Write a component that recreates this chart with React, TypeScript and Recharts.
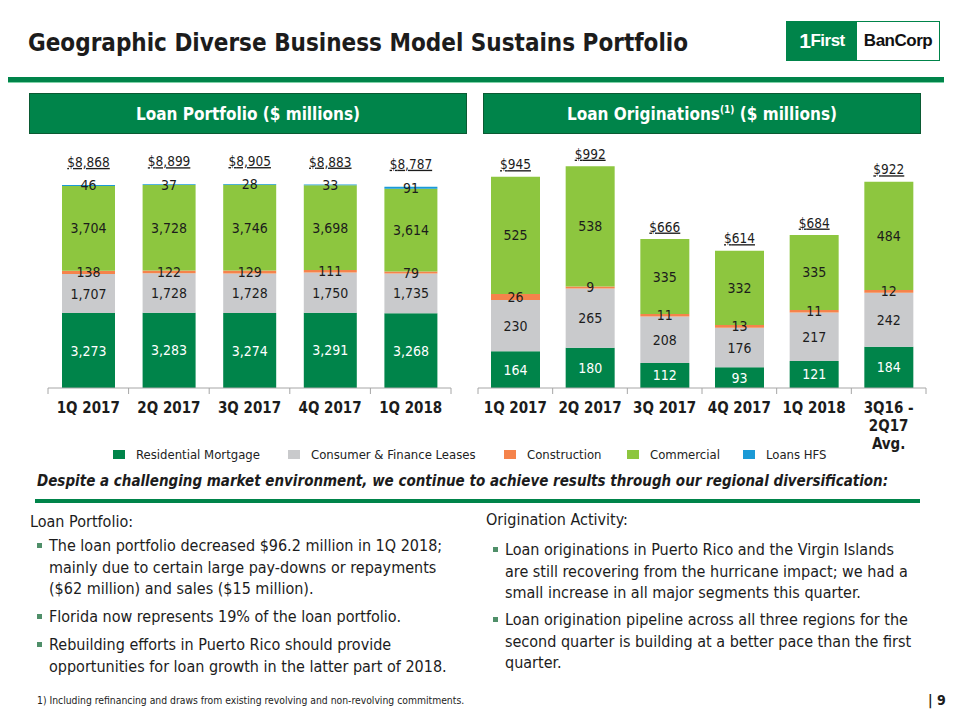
import React from 'react';
import { BarChart, Bar, XAxis, YAxis, LabelList } from 'recharts';

// loan portfolio ($ millions)
const portfolioQuarters = ['1Q 2017', '2Q 2017', '3Q 2017', '4Q 2017', '1Q 2018'];
const portfolioResidential = [3273, 3283, 3274, 3291, 3268];
const portfolioConsumer = [1707, 1728, 1728, 1750, 1735];
const portfolioConstruction = [138, 122, 129, 111, 79];
const portfolioCommercial = [3704, 3728, 3746, 3698, 3614];
const portfolioHfs = [46, 37, 28, 33, 91];
const portfolioTotals = [8868, 8899, 8905, 8883, 8787];

// loan originations ($ millions)
const originationQuarters = ['1Q 2017', '2Q 2017', '3Q 2017', '4Q 2017', '1Q 2018', '3Q16 -|2Q17|Avg.'];
const originationResidential = [164, 180, 112, 93, 121, 184];
const originationConsumer = [230, 265, 208, 176, 217, 242];
const originationConstruction = [26, 9, 11, 13, 11, 12];
const originationCommercial = [525, 538, 335, 332, 335, 484];
const originationTotals = [945, 992, 666, 614, 684, 922];

const seriesNames = ['Residential Mortgage', 'Consumer & Finance Leases', 'Construction', 'Commercial', 'Loans HFS'];

const GREEN = '#00844a';
const LIGHT_GREEN = '#8dc63f';
const GRAY = '#c9cacc';
const ORANGE = '#f5834b';
const BLUE = '#1b9ad6';
const seriesColors = [GREEN, GRAY, ORANGE, LIGHT_GREEN, BLUE];
const INK = '#1c1c1c';
const AXIS = '#a6a6a6';
const FONT = '"DejaVu Sans Condensed", "DejaVu Sans", sans-serif';

const portfolioData = portfolioQuarters.map((q, i) => ({
  quarter: q,
  residential: portfolioResidential[i],
  consumer: portfolioConsumer[i],
  construction: portfolioConstruction[i],
  commercial: portfolioCommercial[i],
  hfs: portfolioHfs[i],
  total: portfolioTotals[i],
}));

const originationData = originationQuarters.map((q, i) => ({
  quarter: q,
  residential: originationResidential[i],
  consumer: originationConsumer[i],
  construction: originationConstruction[i],
  commercial: originationCommercial[i],
  total: originationTotals[i],
}));

const fmt = (v: number) => Number(v).toLocaleString('en-US');

function box(props: any) {
  const vb = props.viewBox || props;
  return { x: vb.x ?? props.x, y: vb.y ?? props.y, w: vb.width ?? props.width, h: vb.height ?? props.height };
}

const segLabel = (color: string) => (props: any) => {
  const { x, y, w, h } = box(props);
  return (
    <text x={x + w / 2} y={y + h / 2} dy={5} textAnchor="middle" fontFamily={FONT} fontSize={14} fill={color}>
      {fmt(props.value)}
    </text>
  );
};

const totalLabel = (offset: number) => (props: any) => {
  const { x, y, w } = box(props);
  return (
    <text x={x + w / 2} y={y - offset} textAnchor="middle" fontFamily={FONT} fontSize={13.5} fill={INK}
      style={{ textDecoration: 'underline' }}>
      ${fmt(props.value)}
    </text>
  );
};

function QuarterTick(props: any) {
  const { x, y, payload, index, step, count } = props;
  const lines = String(payload.value).split('|');
  const half = step / 2;
  return (
    <g>
      <line x1={x - half} y1={y} x2={x - half} y2={y + 6} stroke={AXIS} />
      {index === count - 1 && <line x1={x + half} y1={y} x2={x + half} y2={y + 6} stroke={AXIS} />}
      <text x={x} y={y + 25} textAnchor="middle" fontFamily={FONT} fontWeight="bold" fontSize={15} fill={INK}>
        {lines.map((l, i) => (
          <tspan key={i} x={x} dy={i === 0 ? 0 : 18}>{l}</tspan>
        ))}
      </text>
    </g>
  );
}

function PortfolioChart() {
  return (
    <BarChart width={450} height={330} data={portfolioData} margin={{ top: 29, right: 19, bottom: 0, left: 28 }}>
      <XAxis dataKey="quarter" height={72} interval={0} tickSize={0} tickMargin={0} tickLine={false}
        axisLine={{ stroke: AXIS }} tick={<QuarterTick step={403 / 5} count={5} />} />
      <YAxis hide domain={[0, 10000]} />
      <Bar dataKey="residential" stackId="a" fill={GREEN} barSize={53} isAnimationActive={false}>
        <LabelList dataKey="residential" content={segLabel('#ffffff')} />
      </Bar>
      <Bar dataKey="consumer" stackId="a" fill={GRAY} barSize={53} isAnimationActive={false}>
        <LabelList dataKey="consumer" content={segLabel(INK)} />
      </Bar>
      <Bar dataKey="construction" stackId="a" fill={ORANGE} barSize={53} isAnimationActive={false}>
        <LabelList dataKey="construction" content={segLabel(INK)} />
      </Bar>
      <Bar dataKey="commercial" stackId="a" fill={LIGHT_GREEN} barSize={53} isAnimationActive={false}>
        <LabelList dataKey="commercial" content={segLabel(INK)} />
      </Bar>
      <Bar dataKey="hfs" stackId="a" fill={BLUE} barSize={53} isAnimationActive={false}>
        <LabelList dataKey="hfs" content={segLabel(INK)} />
        <LabelList dataKey="total" content={totalLabel(18)} />
      </Bar>
    </BarChart>
  );
}

function OriginationChart() {
  return (
    <BarChart width={470} height={340} data={originationData} margin={{ top: 22, right: 14, bottom: 0, left: 8 }}>
      <XAxis dataKey="quarter" height={72} interval={0} tickSize={0} tickMargin={0} tickLine={false}
        axisLine={{ stroke: AXIS }} tick={<QuarterTick step={448 / 6} count={6} />} />
      <YAxis hide domain={[0, 1100]} />
      <Bar dataKey="residential" stackId="a" fill={GREEN} barSize={49} isAnimationActive={false}>
        <LabelList dataKey="residential" content={segLabel('#ffffff')} />
      </Bar>
      <Bar dataKey="consumer" stackId="a" fill={GRAY} barSize={49} isAnimationActive={false}>
        <LabelList dataKey="consumer" content={segLabel(INK)} />
      </Bar>
      <Bar dataKey="construction" stackId="a" fill={ORANGE} barSize={49} isAnimationActive={false}>
        <LabelList dataKey="construction" content={segLabel(INK)} />
      </Bar>
      <Bar dataKey="commercial" stackId="a" fill={LIGHT_GREEN} barSize={49} isAnimationActive={false}>
        <LabelList dataKey="commercial" content={segLabel(INK)} />
        <LabelList dataKey="total" content={totalLabel(7.5)} />
      </Bar>
    </BarChart>
  );
}

function TextLine({ x, y, size = 15, bold = false, italic = false, color = INK, children }: any) {
  return (
    <div style={{
      position: 'absolute', left: x, top: y - size * 0.6, height: size * 1.2, lineHeight: `${size * 1.2}px`,
      fontSize: size, fontWeight: bold ? 'bold' : 'normal', fontStyle: italic ? 'italic' : 'normal',
      color, whiteSpace: 'nowrap',
    }}>
      {children}
    </div>
  );
}

function Bullet({ x, y }: any) {
  return <div style={{ position: 'absolute', left: x, top: y - 3, width: 5, height: 5, background: '#4f8f69' }} />;
}

const legendX = [113, 288, 504, 627, 743];

const leftNotes = [
  ['The loan portfolio decreased $96.2 million in 1Q 2018;', 'mainly due to certain large pay-downs or repayments', '($62 million) and sales ($15 million).'],
  ['Florida now represents 19% of the loan portfolio.'],
  ['Rebuilding efforts in Puerto Rico should provide', 'opportunities for loan growth in the latter part of 2018.'],
];
const rightNotes = [
  ['Loan originations in Puerto Rico and the Virgin Islands', 'are still recovering from the hurricane impact; we had a', 'small increase in all major segments this quarter.'],
  ['Loan origination pipeline across all three regions for the', 'second quarter is building at a better pace than the first', 'quarter.'],
];

function Notes({ x, y, heading, items, first, gap }: any) {
  const out: any[] = [<TextLine key="h" x={x - 19} y={y} size={16}>{heading}</TextLine>];
  let cy = y + first;
  items.forEach((lines: string[], i: number) => {
    out.push(<Bullet key={'b' + i} x={x - 12} y={cy} />);
    lines.forEach((l, j) => {
      out.push(<TextLine key={i + '-' + j} x={x} y={cy} size={16}>{l}</TextLine>);
      cy += 21.5;
    });
    cy += gap;
  });
  return <>{out}</>;
}

export default function App() {
  return (
    <div style={{ position: 'relative', width: 960, height: 720, margin: -8, background: '#fff', overflow: 'hidden', fontFamily: FONT, color: INK }}>
      <TextLine x={28} y={43} size={24} bold>Geographic Diverse Business Model Sustains Portfolio</TextLine>

      {/* logo */}
      <div style={{ position: 'absolute', left: 786, top: 21, width: 154, height: 40, border: `1px solid ${GREEN}`, boxSizing: 'border-box', display: 'flex' }}>
        <div style={{ width: 70, background: GREEN, color: '#fff', display: 'flex', alignItems: 'center', justifyContent: 'center', fontFamily: 'Liberation Sans, Arial, sans-serif', fontWeight: 'bold', fontSize: 17, letterSpacing: -0.5 }}>
          <span style={{ fontSize: 21 }}>1</span>First
        </div>
        <div style={{ flex: 1, color: '#111', display: 'flex', alignItems: 'center', justifyContent: 'center', fontFamily: 'Liberation Sans, Arial, sans-serif', fontWeight: 'bold', fontSize: 17, letterSpacing: -0.5 }}>
          BanCorp
        </div>
      </div>

      <div style={{ position: 'absolute', left: 8, top: 77, width: 936, height: 5, background: GREEN, borderBottom: '1px solid #7fd3a8' }} />

      {/* section headers */}
      <div style={{ position: 'absolute', left: 29, top: 93, width: 438, height: 41, background: GREEN, border: '1.5px solid #0b5a33', boxSizing: 'border-box', color: '#fff', fontWeight: 'bold', fontSize: 17, display: 'flex', alignItems: 'center', justifyContent: 'center' }}>
        Loan Portfolio ($ millions)
      </div>
      <div style={{ position: 'absolute', left: 483, top: 93, width: 438, height: 41, background: GREEN, border: '1.5px solid #0b5a33', boxSizing: 'border-box', color: '#fff', fontWeight: 'bold', fontSize: 17, display: 'flex', alignItems: 'center', justifyContent: 'center' }}>
        <span>Loan Originations<sup style={{ fontSize: 10, lineHeight: 0 }}>(1)</sup> ($ millions)</span>
      </div>

      <div style={{ position: 'absolute', left: 20, top: 130 }}>
        <PortfolioChart />
      </div>
      <div style={{ position: 'absolute', left: 470, top: 120 }}>
        <OriginationChart />
      </div>

      {/* legend */}
      {seriesNames.map((name, i) => (
        <div key={name} style={{ position: 'absolute', left: legendX[i], top: 446, height: 16, display: 'flex', alignItems: 'center', fontSize: 13, color: '#222', whiteSpace: 'nowrap' }}>
          <span style={{ display: 'inline-block', width: 12, height: 9, background: seriesColors[i], marginRight: 11 }} />
          {name}
        </div>
      ))}

      <TextLine x={37} y={481} size={15} bold italic>
        Despite a challenging market environment, we continue to achieve results through our regional diversification:
      </TextLine>
      <div style={{ position: 'absolute', left: 35, top: 499, width: 885, height: 4, background: GREEN }} />

      <Notes x={49} y={522} heading="Loan Portfolio:" items={leftNotes} first={24} gap={6.5} />
      <Notes x={505} y={520} heading="Origination Activity:" items={rightNotes} first={30} gap={5.5} />

      <TextLine x={37} y={700} size={10.3}>1) Including refinancing and draws from existing revolving and non-revolving commitments.</TextLine>
      <TextLine x={928} y={700} size={14} bold>| 9</TextLine>
    </div>
  );
}
